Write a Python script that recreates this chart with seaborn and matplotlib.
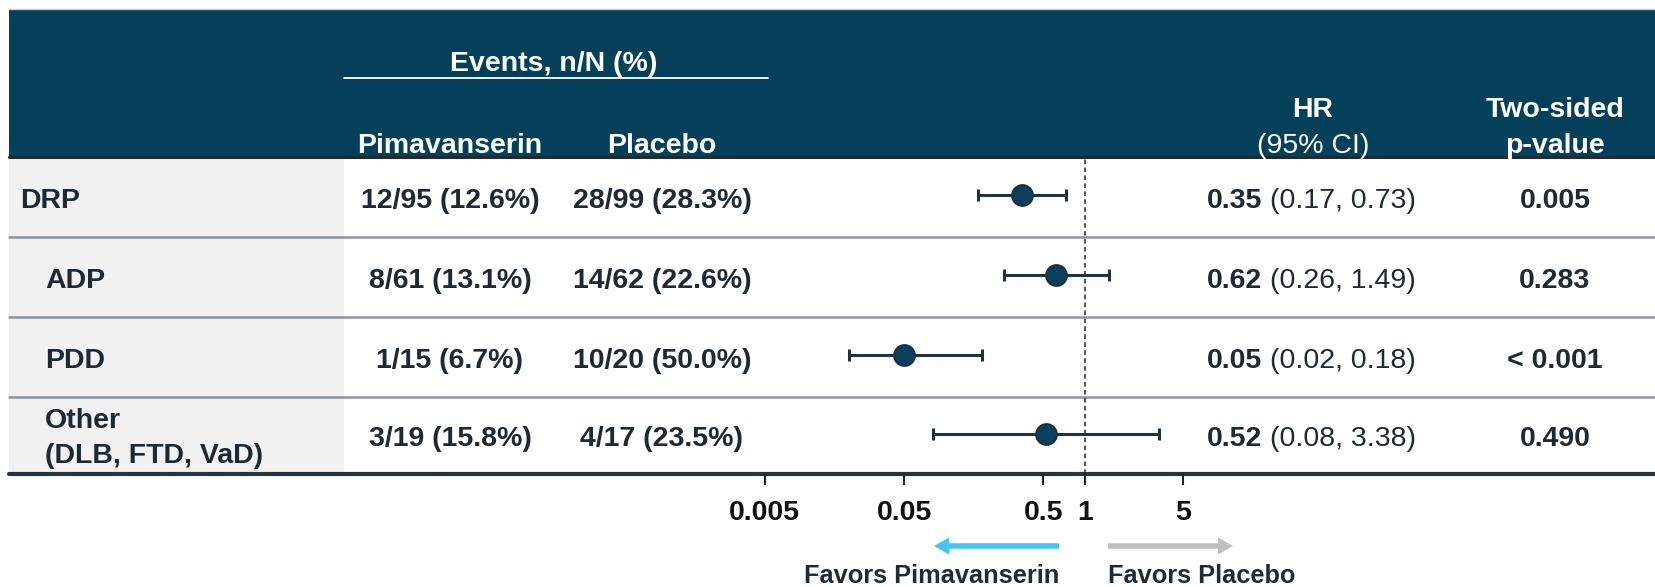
import numpy as np
import pandas as pd
import matplotlib
matplotlib.use("Agg")
import matplotlib.pyplot as plt
from matplotlib.patches import Rectangle, FancyArrow
import seaborn as sns

# ---- data ----
subgroups = ["DRP", "ADP", "PDD", "Other\n(DLB, FTD, VaD)"]
pima_events = [12, 8, 1, 3]
pima_total = [95, 61, 15, 19]
pima_pct = [12.6, 13.1, 6.7, 15.8]
plac_events = [28, 14, 10, 4]
plac_total = [99, 62, 20, 17]
plac_pct = [28.3, 22.6, 50.0, 23.5]
hr = [0.35, 0.62, 0.05, 0.52]
ci_low = [0.17, 0.26, 0.02, 0.08]
ci_high = [0.73, 1.49, 0.18, 3.38]
p_values = ["0.005", "0.283", "< 0.001", "0.490"]
axis_ticks = [0.005, 0.05, 0.5, 1, 5]
axis_tick_labels = ["0.005", "0.05", "0.5", "1", "5"]

# ---- style ----
sns.set_theme(style="white")
plt.rcParams["font.family"] = ["Liberation Sans", "DejaVu Sans"]

W, H = 1656, 587
fig = plt.figure(figsize=(W / 100, H / 100), dpi=100)

HEADER_BG = "#05405b"
TEXT = "#1d2a36"
ROW_LINE = "#8d969c"
FS = 20.5

# background axes in pixel units
bg = fig.add_axes([0, 0, 1, 1])
bg.set_xlim(0, W)
bg.set_ylim(H, 0)
bg.axis("off")

# layout
head_top, head_bot = 9, 157
row_edges = [157, 237, 317, 397, 474]
row_centers = [(row_edges[i] + row_edges[i + 1]) / 2 for i in range(4)]
left_edge = 9
label_col_right = 344
x_pima, x_plac = 450, 662
x_hr_split = 1262
x_p = 1555

# header band
bg.add_patch(Rectangle((left_edge, head_top), W - left_edge, head_bot - head_top,
                       facecolor=HEADER_BG, edgecolor="none", zorder=1))
bg.plot([left_edge, W], [head_top - 0.5, head_top - 0.5], color="#c9cdd0", lw=1, zorder=2)
bg.plot([left_edge, W], [head_bot, head_bot], color="#1f2b33", lw=2.2, zorder=3)

# light grey label column
bg.add_patch(Rectangle((left_edge, head_bot + 1), label_col_right - left_edge,
                       row_edges[-1] - head_bot - 1, facecolor="#f1f1f1",
                       edgecolor="none", zorder=0))

# row separators and bottom rule
for y in row_edges[1:-1]:
    bg.plot([left_edge, W], [y, y], color=ROW_LINE, lw=1.8, zorder=2)
bg.plot([left_edge, W], [row_edges[-1], row_edges[-1]], color="#26343e", lw=3, zorder=3)

# header text
bg.text(554, 71, "Events, n/N (%)", color="white", fontsize=FS, fontweight="bold",
        ha="center", va="baseline", zorder=4)
bg.plot([344, 768], [78, 78], color="white", lw=1.3, zorder=4)
bg.text(x_pima, 153, "Pimavanserin", color="white", fontsize=FS, fontweight="bold",
        ha="center", va="baseline", zorder=4)
bg.text(x_plac, 153, "Placebo", color="white", fontsize=FS, fontweight="bold",
        ha="center", va="baseline", zorder=4)
bg.text(1313, 117, "HR", color="white", fontsize=FS, fontweight="bold",
        ha="center", va="baseline", zorder=4)
bg.text(1313, 153, "(95% CI)", color="white", fontsize=FS, fontweight="normal",
        ha="center", va="baseline", zorder=4)
bg.text(x_p, 117, "Two-sided", color="white", fontsize=FS, fontweight="bold",
        ha="center", va="baseline", zorder=4)
bg.text(x_p, 153, "p-value", color="white", fontsize=FS, fontweight="bold",
        ha="center", va="baseline", zorder=4)

# table body
for i, name in enumerate(subgroups):
    yc = row_centers[i]
    xl = 20 if i == 0 else 45
    if "\n" in name:
        bg.text(xl, yc + 3, name, color=TEXT, fontsize=FS, fontweight="bold",
                ha="left", va="center", linespacing=1.45, zorder=4)
    else:
        bg.text(xl, yc + 11, name, color=TEXT, fontsize=FS, fontweight="bold",
                ha="left", va="baseline", zorder=4)
    bg.text(x_pima, yc + 11, f"{pima_events[i]}/{pima_total[i]} ({pima_pct[i]:.1f}%)",
            color=TEXT, fontsize=FS, fontweight="bold", ha="center", va="baseline", zorder=4)
    bg.text(x_plac, yc + 11, f"{plac_events[i]}/{plac_total[i]} ({plac_pct[i]:.1f}%)",
            color=TEXT, fontsize=FS, fontweight="bold", ha="center", va="baseline", zorder=4)
    bg.text(x_hr_split, yc + 11, f"{hr[i]:.2f}", color=TEXT, fontsize=FS,
            fontweight="bold", ha="right", va="baseline", zorder=4)
    bg.text(x_hr_split + 8, yc + 11, f"({ci_low[i]:.2f}, {ci_high[i]:.2f})", color=TEXT,
            fontsize=FS, fontweight="normal", ha="left", va="baseline", zorder=4)
    bg.text(x_p, yc + 11, p_values[i], color=TEXT, fontsize=FS, fontweight="bold",
            ha="center", va="baseline", zorder=4)

# ---- forest panel on a log axis ----
px_one, px_decade = 1085.3, 139.3
X0, X1 = 700, 1240
fx = fig.add_axes([X0 / W, (H - row_edges[-1]) / H, (X1 - X0) / W,
                   (row_edges[-1] - head_bot) / H])
fx.set_facecolor("none")
fx.set_xscale("log")
fx.set_xlim(10 ** ((X0 - px_one) / px_decade), 10 ** ((X1 - px_one) / px_decade))
fx.set_ylim(row_edges[-1], head_bot)
for s in fx.spines.values():
    s.set_visible(False)

df = pd.DataFrame({"subgroup": subgroups, "hr": hr, "lo": ci_low, "hi": ci_high,
                   "y": [c - 2 for c in row_centers]})

fx.axvline(1, color="#222222", lw=1.1, ls=(0, (3, 2.2)), zorder=1)
fx.hlines(df["y"], df["lo"], df["hi"], color="#1d3443", lw=2.2, zorder=2)
fx.vlines(df["lo"], df["y"] - 6, df["y"] + 6, color="#1d3443", lw=2.2, zorder=2)
fx.vlines(df["hi"], df["y"] - 6, df["y"] + 6, color="#1d3443", lw=2.2, zorder=2)
sns.scatterplot(data=df, x="hr", y="y", ax=fx, s=230, color="#0b3f5c",
                edgecolor="#16303f", linewidth=1.2, zorder=3, legend=False)
fx.set_xlabel("")
fx.set_ylabel("")
fx.set_yticks([])
fx.set_xticks(axis_ticks)
fx.set_xticklabels(axis_tick_labels)
fx.xaxis.set_minor_locator(matplotlib.ticker.NullLocator())
fx.tick_params(axis="x", which="major", bottom=True, direction="out", length=8,
               width=1.5, color="#222222", pad=11, labelsize=FS, labelcolor="#111111")
for lab in fx.get_xticklabels():
    lab.set_fontweight("bold")

# direction arrows and captions
bg.add_patch(FancyArrow(1059, 546, -110, 0, width=5.5, head_width=17, head_length=15,
                        length_includes_head=False, color="#45c4f7", lw=0, zorder=4))
bg.add_patch(FancyArrow(1108, 546, 110, 0, width=5.5, head_width=17, head_length=15,
                        length_includes_head=False, color="#bfbfbf", lw=0, zorder=4))
bg.text(1059, 583, "Favors Pimavanserin", color="#1f2c38", fontsize=18.3,
        fontweight="bold", ha="right", va="baseline")
bg.text(1108, 583, "Favors Placebo", color="#1f2c38", fontsize=18.3,
        fontweight="bold", ha="left", va="baseline")

fig.savefig("out.png", dpi=100)
